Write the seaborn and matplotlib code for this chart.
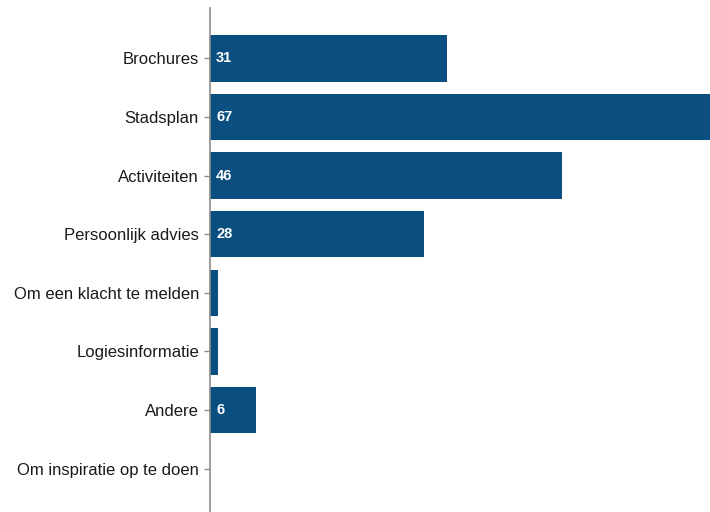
import matplotlib
matplotlib.use("Agg")
import matplotlib.pyplot as plt
import seaborn as sns
import pandas as pd

categories = [
    "Brochures",
    "Stadsplan",
    "Activiteiten",
    "Persoonlijk advies",
    "Om een klacht te melden",
    "Logiesinformatie",
    "Andere",
    "Om inspiratie op te doen",
]
counts = [31, 67, 46, 28, 1, 1, 6, 0]
labelled = [True, True, True, True, False, False, True, False]

df = pd.DataFrame({"categorie": categories, "aantal": counts})

sns.set_theme(style="white")
plt.rcParams["font.family"] = ["Liberation Sans", "DejaVu Sans"]

fig = plt.figure(figsize=(7.1, 5.12), dpi=100)
ax = fig.add_axes([210 / 710, 0.0, 500 / 710, 504 / 512])

bar_color = "#0a4f80"
sns.barplot(data=df, x="aantal", y="categorie", orient="h", color=bar_color,
            saturation=1, width=0.79, linewidth=0, ax=ax)

ax.set_xlim(0, 500 / 7.65)
ax.set_ylim(7.74, -0.86)

for i, (v, show) in enumerate(zip(counts, labelled)):
    if show:
        ax.text(0.8, i, str(v), color="white", fontweight="bold",
                fontsize=10.5, va="center", ha="left")

ax.set_xlabel("")
ax.set_ylabel("")
ax.set_xticks([])
for side in ["top", "right", "bottom"]:
    ax.spines[side].set_visible(False)
ax.spines["left"].set_color("#8c8c8c")
ax.spines["left"].set_linewidth(1.2)
ax.tick_params(axis="y", left=True, length=4, width=1, color="#8c8c8c",
               pad=4, labelsize=12, labelcolor="#1a1a1a")

fig.savefig("out.png", dpi=100)
